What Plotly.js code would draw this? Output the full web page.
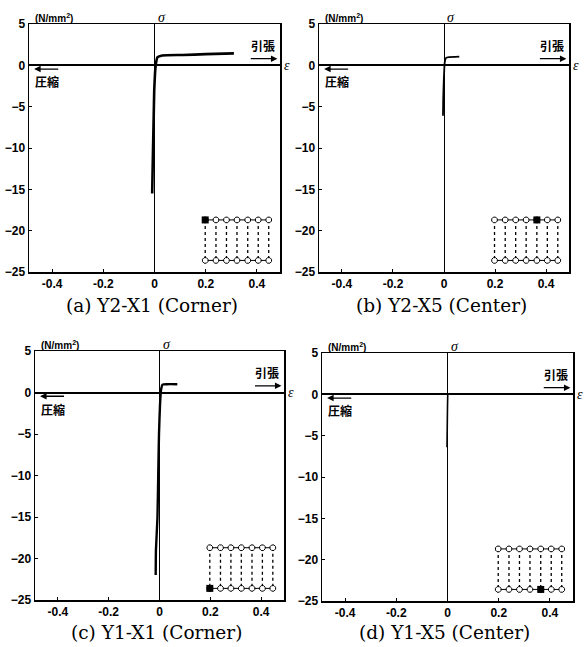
<!DOCTYPE html>
<html><head><meta charset="utf-8">
<script src="https://cdn.plot.ly/plotly-3.0.1.min.js"></script>
<style>html,body{margin:0;padding:0;background:#fff}#c{width:584px;height:647px}</style>
</head><body><div id="c"></div>
<script>
// ---- data (strain %, stress N/mm2) ----
const strainA = [-0.009, -0.007, -0.005, -0.003, -0.001, 0.002, 0.006, 0.012, 0.03, 0.11, 0.2, 0.31];
const stressA = [-15.5, -12, -9, -6, -3, -1, 0.3, 1.0, 1.2, 1.25, 1.35, 1.45];
const strainB = [-0.004, -0.003, -0.001, 0.001, 0.003, 0.008, 0.02, 0.06];
const stressB = [-6.1, -4, -2, -0.5, 0.4, 0.9, 1.0, 1.05];
const strainC = [-0.015, -0.014, -0.008, -0.005, -0.002, 0.002, 0.006, 0.012, 0.03, 0.07];
const stressC = [-22, -19, -15, -10, -5, -1.5, 0.3, 0.95, 1.0, 1.0];
const strainD = [-0.002, -0.001, 0.0, 0.001];
const stressD = [-6.4, -4, -1.5, 0.1];
const captions = ["(a) Y2-X1 (Corner)", "(b) Y2-X5 (Center)", "(c) Y1-X1 (Corner)", "(d) Y1-X5 (Center)"];
const xTickVals = [-0.4, -0.2, 0, 0.2, 0.4];
const xTickText = ["-0.4", "-0.2", "0", "0.2", "0.4"];
const yTickVals = [5, 0, -5, -10, -15, -20, -25];
// inset frame diagram (node positions in plot units)
const insetX = [0.198, 0.24, 0.281, 0.322, 0.364, 0.405, 0.446];
const insetTopY = -18.7;
const insetBotY = -23.6;
const highlight = [{row: "top", col: 0}, {row: "top", col: 4}, {row: "bot", col: 0}, {row: "bot", col: 4}];

const series = [[strainA, stressA, 2.6], [strainB, stressB, 1.8], [strainC, stressC, 2.4], [strainD, stressD, 1.6]];
const xDomains = [[29/584, 280/584], [319/584, 569/584], [35/584, 284/584], [322/584, 573/584]];
const yDomains = [[1-272/647, 1-24/647], [1-272/647, 1-24/647], [1-600/647, 1-351/647], [1-601/647, 1-353/647]];
const capY = [1-305/647, 1-305/647, 1-632/647, 1-632/647];

const traces = [];
const annotations = [];
const layout = {
  width: 584, height: 647, margin: {l: 0, r: 0, t: 0, b: 0},
  paper_bgcolor: "#fff", plot_bgcolor: "#fff", showlegend: false,
  font: {family: "Liberation Sans, Arial, sans-serif", color: "#000"}
};
const tickFont = {family: "Liberation Sans, Arial, sans-serif", size: 12, color: "#000", weight: "bold"};
const jpFont = {family: "Noto Sans CJK JP", size: 12, color: "#000", weight: "bold"};

for (let i = 0; i < 4; i++) {
  const s = i === 0 ? "" : String(i + 1);
  const xa = "x" + s, ya = "y" + s;
  layout["xaxis" + s] = {
    domain: xDomains[i], anchor: ya, range: [-0.49, 0.49], showgrid: false,
    showline: true, linecolor: "#000", linewidth: 1.5, mirror: true,
    zeroline: true, zerolinecolor: "#000", zerolinewidth: 1,
    ticks: "inside", ticklen: 3, tickcolor: "#000",
    tickvals: xTickVals, ticktext: xTickText, tickfont: tickFont, fixedrange: true
  };
  layout["yaxis" + s] = {
    domain: yDomains[i], anchor: xa, range: [-25, 5], showgrid: false,
    showline: true, linecolor: "#000", linewidth: 1.5, mirror: true,
    zeroline: true, zerolinecolor: "#000", zerolinewidth: 2,
    ticks: "inside", ticklen: 3, tickcolor: "#000",
    tickvals: yTickVals, tickfont: tickFont, fixedrange: true
  };
  // stress-strain curve
  traces.push({x: series[i][0], y: series[i][1], xaxis: xa, yaxis: ya, mode: "lines",
    line: {color: "#000", width: series[i][2], shape: "spline", smoothing: 0.4}, hoverinfo: "skip"});
  // inset: vertical dotted members
  const vx = [], vy = [];
  insetX.forEach(v => { vx.push(v, v, null); vy.push(insetTopY, insetBotY, null); });
  traces.push({x: vx, y: vy, xaxis: xa, yaxis: ya, mode: "lines",
    line: {color: "#000", width: 1.3, dash: "dot"}, hoverinfo: "skip"});
  // inset: horizontal beams + nodes
  [insetTopY, insetBotY].forEach(yy => {
    traces.push({x: insetX, y: insetX.map(() => yy), xaxis: xa, yaxis: ya, mode: "lines+markers",
      line: {color: "#000", width: 1},
      marker: {symbol: "octagon", size: 6, color: "#fff", line: {color: "#000", width: 1}}, hoverinfo: "skip"});
  });
  const h = highlight[i];
  traces.push({x: [insetX[h.col]], y: [h.row === "top" ? insetTopY : insetBotY], xaxis: xa, yaxis: ya,
    mode: "markers", marker: {symbol: "square", size: 7, color: "#000"}, hoverinfo: "skip"});

  // texts
  annotations.push({xref: xa, yref: ya, x: -0.475, y: 5, xanchor: "left", yanchor: "bottom", yshift: -2,
    text: "(N/mm<sup>2</sup>)", showarrow: false, font: {family: "Liberation Sans, Arial", size: 10, weight: "bold", color: "#000"}});
  annotations.push({xref: xa, yref: ya, x: 0.0, y: 5, xanchor: "left", yanchor: "bottom", xshift: 1, yshift: -3,
    text: "σ", showarrow: false, font: {family: "Liberation Serif, serif", size: 14, style: "italic", color: "#000"}});
  annotations.push({xref: xa, yref: ya, x: 0.425, y: 2.4, xanchor: "center", yanchor: "middle",
    text: "引張", showarrow: false, font: jpFont});
  annotations.push({xref: xa, yref: ya, axref: xa, ayref: ya, x: 0.48, y: 0.8, ax: 0.37, ay: 0.8,
    text: "", showarrow: true, arrowhead: 2, arrowsize: 1, arrowwidth: 1.3, arrowcolor: "#000"});
  annotations.push({xref: xa, yref: ya, x: 0.49, y: 0, xanchor: "left", yanchor: "middle", xshift: 2,
    text: "ε", showarrow: false, font: {family: "Liberation Serif, serif", size: 14, style: "italic", color: "#000"}});
  annotations.push({xref: xa, yref: ya, axref: xa, ayref: ya, x: -0.47, y: -0.45, ax: -0.37, ay: -0.45,
    text: "", showarrow: true, arrowhead: 2, arrowsize: 1, arrowwidth: 1.3, arrowcolor: "#000"});
  annotations.push({xref: xa, yref: ya, x: -0.42, y: -2.0, xanchor: "center", yanchor: "middle",
    text: "圧縮", showarrow: false, font: jpFont});
  // caption
  annotations.push({xref: "paper", yref: "paper", x: (xDomains[i][0] + xDomains[i][1]) / 2 - 0.005, y: capY[i],
    xanchor: "center", yanchor: "middle", text: captions[i], showarrow: false,
    font: {family: "DejaVu Serif, serif", size: 18.5, color: "#000"}});
}
layout.annotations = annotations;
Plotly.newPlot("c", traces, layout, {staticPlot: true, displayModeBar: false});
</script></body></html>
